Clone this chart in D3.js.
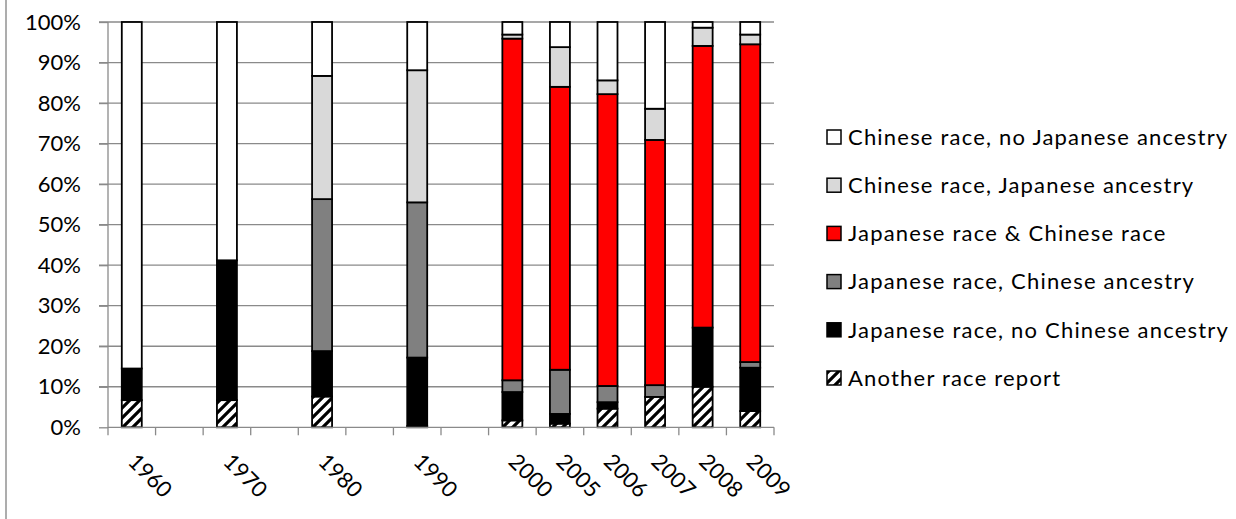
<!DOCTYPE html>
<html>
<head>
<meta charset="utf-8">
<script src="https://cdn.jsdelivr.net/npm/d3@7"></script>
<style>
  html, body { margin: 0; padding: 0; background: #fff; }
  svg { display: block; }
  text { font-family: Lato, "Open Sans", sans-serif; fill: #000; }
</style>
</head>
<body>
<svg id="chart" width="1236" height="519"></svg>
<script>
// Slots along the category axis; null slots stay empty as spacing between decades
const categories = ["1960", null, "1970", null, "1980", null, "1990", null,
                    "2000", "2005", "2006", "2007", "2008", "2009"];

// Shares (%) for each year that has a bar, in category order
const years = ["1960", "1970", "1980", "1990", "2000", "2005", "2006", "2007", "2008", "2009"];
const anotherRace               = [6.7, 6.7, 7.6, 0.3, 1.7, 0.9, 4.6, 7.5, 10.0, 4.0];
const japaneseNoChineseAncestry = [7.8, 34.5, 11.2, 16.9, 7.0, 2.4, 1.6, 0.0, 14.6, 10.7];
const japaneseChineseAncestry   = [0.0, 0.0, 37.5, 38.3, 2.9, 10.9, 4.0, 2.9, 0.0, 1.4];
const japaneseAndChinese        = [0.0, 0.0, 0.0, 0.0, 84.3, 69.8, 72.0, 60.5, 69.5, 78.4];
const chineseJapaneseAncestry   = [0.0, 0.0, 30.4, 32.6, 1.0, 9.8, 3.4, 7.7, 4.5, 2.4];
const chineseNoJapaneseAncestry = [85.5, 58.8, 13.3, 11.9, 3.1, 6.2, 14.4, 21.4, 1.4, 3.1];

// Series names, stacked from the bottom up
const seriesNames = [
  "Another race report",
  "Japanese race, no Chinese ancestry",
  "Japanese race, Chinese ancestry",
  "Japanese race & Chinese race",
  "Chinese race, Japanese ancestry",
  "Chinese race, no Japanese ancestry"
];
const seriesValues = [anotherRace, japaneseNoChineseAncestry, japaneseChineseAncestry,
                      japaneseAndChinese, chineseJapaneseAncestry, chineseNoJapaneseAncestry];

const yTickValues = [0, 10, 20, 30, 40, 50, 60, 70, 80, 90, 100];
const yTickLabels = ["0%", "10%", "20%", "30%", "40%", "50%", "60%", "70%", "80%", "90%", "100%"];

// ---- styling ----
const fills = {
  "Another race report": "url(#hatch)",
  "Japanese race, no Chinese ancestry": "#000000",
  "Japanese race, Chinese ancestry": "#808080",
  "Japanese race & Chinese race": "#ff0000",
  "Chinese race, Japanese ancestry": "#d9d9d9",
  "Chinese race, no Japanese ancestry": "#ffffff"
};
const gridColor = "#8a8a8a";
const fontSize = 22;

const svg = d3.select("#chart");

// Hatched fill: black diagonal stripes on white
const defs = svg.append("defs");
const pat = defs.append("pattern")
  .attr("id", "hatch")
  .attr("patternUnits", "userSpaceOnUse")
  .attr("width", 10).attr("height", 10);
pat.append("rect").attr("width", 10).attr("height", 10).attr("fill", "#fff");
pat.append("path")
  .attr("d", "M-5,5 L5,-5 M0,10 L10,0 M5,15 L15,5")
  .attr("stroke", "#000").attr("stroke-width", 3.2);

// Outer frame edge on the left
svg.append("line")
  .attr("x1", 6).attr("x2", 6).attr("y1", 0).attr("y2", 519)
  .attr("stroke", gridColor).attr("stroke-width", 1.4);

// ---- scales ----
const plot = { left: 108, right: 774, top: 22, bottom: 427.3 };
const x = d3.scaleBand()
  .domain(d3.range(categories.length))
  .range([plot.left, plot.right])
  .paddingInner(0.58)
  .paddingOuter(0.29);
const step = x.step();
const y = d3.scaleLinear().domain([0, 100]).range([plot.bottom, plot.top]);

// ---- gridlines + y ticks ----
svg.append("g").selectAll("line")
  .data(yTickValues.filter(v => v > 0))
  .join("line")
  .attr("x1", plot.left - 9).attr("x2", plot.right)
  .attr("y1", d => y(d)).attr("y2", d => y(d))
  .attr("stroke", gridColor).attr("stroke-width", 1.3);

// y axis line with outside ticks
const yAxis = d3.axisLeft(y).tickValues(yTickValues).tickSize(9).tickFormat("");
const yAxisG = svg.append("g").attr("transform", `translate(${plot.left},0)`).call(yAxis);
yAxisG.select(".domain").attr("stroke", gridColor).attr("stroke-width", 1.3)
  .attr("d", `M0,${plot.top}V${plot.bottom}`);
yAxisG.selectAll(".tick line").attr("stroke", gridColor).attr("stroke-width", 1.3);

svg.append("g").selectAll("text")
  .data(yTickValues)
  .join("text")
  .attr("x", 81)
  .attr("y", d => y(d) + fontSize * 0.35)
  .attr("text-anchor", "end")
  .style("font-size", fontSize + "px")
  .text((d, i) => yTickLabels[i]);

// ---- stacked bars ----
const slotOfYear = years.map(yr => categories.indexOf(yr));
const table = years.map((yr, i) => {
  const row = { year: yr, slot: slotOfYear[i] };
  seriesNames.forEach((s, k) => { row[s] = seriesValues[k][i]; });
  return row;
});
const stacked = d3.stack().keys(seriesNames)(table);

svg.append("g").selectAll("g")
  .data(stacked)
  .join("g")
  .attr("fill", d => fills[d.key])
  .selectAll("rect")
  .data(d => d)
  .join("rect")
  .attr("x", d => x(d.data.slot))
  .attr("width", x.bandwidth())
  .attr("y", d => y(d[1]))
  .attr("height", d => Math.max(0, y(d[0]) - y(d[1])))
  .attr("stroke", "#000")
  .attr("stroke-width", 1.8);

// ---- x axis ----
const boundaries = d3.range(categories.length + 1).map(i => plot.left + i * step);
const xAxisG = svg.append("g");
xAxisG.append("line")
  .attr("x1", plot.left).attr("x2", plot.right)
  .attr("y1", plot.bottom).attr("y2", plot.bottom)
  .attr("stroke", gridColor).attr("stroke-width", 1.3);
xAxisG.selectAll("line.tick")
  .data(boundaries)
  .join("line")
  .attr("class", "tick")
  .attr("x1", d => d).attr("x2", d => d)
  .attr("y1", plot.bottom).attr("y2", plot.bottom + 8)
  .attr("stroke", gridColor).attr("stroke-width", 1.3);

svg.append("g").selectAll("text")
  .data(categories.map((c, i) => ({ c, i })).filter(d => d.c !== null))
  .join("text")
  .attr("transform", d => {
    const cx = x(d.i) + x.bandwidth() / 2 - 5;
    return `translate(${cx},463) rotate(45)`;
  })
  .style("font-size", fontSize + "px")
  .text(d => d.c);

// ---- legend ----
const legendOrder = seriesNames.slice().reverse();
const legend = svg.append("g");
const rowY = i => 137 + i * 48.2;
legend.selectAll("rect")
  .data(legendOrder)
  .join("rect")
  .attr("x", 827).attr("y", (d, i) => rowY(i) - 7)
  .attr("width", 14).attr("height", 14)
  .attr("fill", d => fills[d])
  .attr("stroke", "#000").attr("stroke-width", 1.5);
legend.selectAll("text")
  .data(legendOrder)
  .join("text")
  .attr("x", 848)
  .attr("y", (d, i) => rowY(i) + fontSize * 0.35)
  .style("font-size", fontSize + "px")
  .style("letter-spacing", "1.2px")
  .text(d => d);
</script>
</body>
</html>
